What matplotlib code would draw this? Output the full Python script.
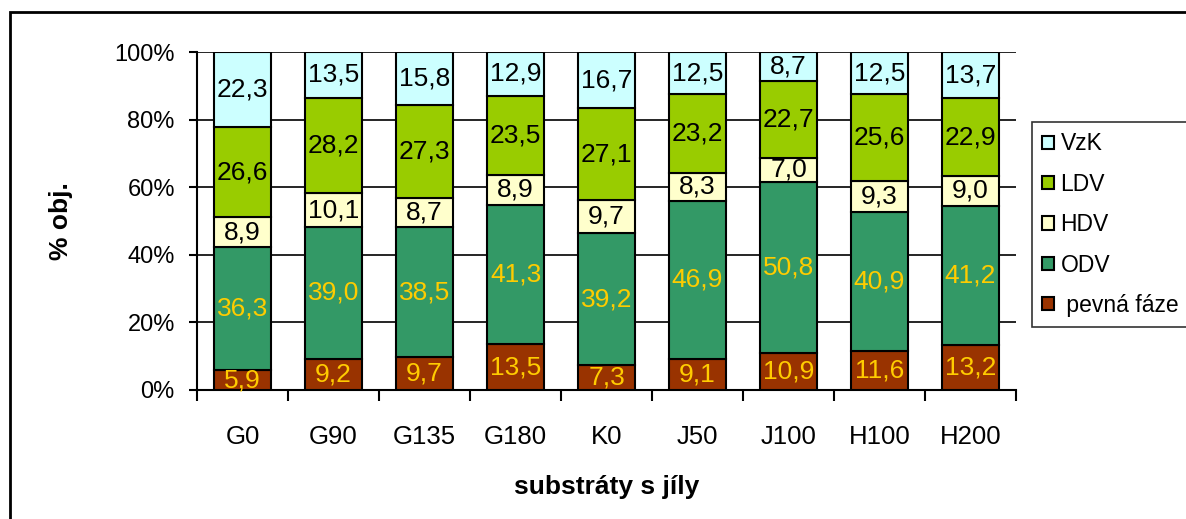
import numpy as np
import matplotlib.pyplot as plt
from matplotlib.patches import Rectangle

plt.rcParams['font.family'] = ['Liberation Sans', 'DejaVu Sans']

kategorie = ['G0', 'G90', 'G135', 'G180', 'K0', 'J50', 'J100', 'H100', 'H200']
pevna_faze = [5.9, 9.2, 9.7, 13.5, 7.3, 9.1, 10.9, 11.6, 13.2]
odv = [36.3, 39.0, 38.5, 41.3, 39.2, 46.9, 50.8, 40.9, 41.2]
hdv = [8.9, 10.1, 8.7, 8.9, 9.7, 8.3, 7.0, 9.3, 9.0]
ldv = [26.6, 28.2, 27.3, 23.5, 27.1, 23.2, 22.7, 25.6, 22.9]
vzk = [22.3, 13.5, 15.8, 12.9, 16.7, 12.5, 8.7, 12.5, 13.7]

serie = [(' pevná fáze', pevna_faze, '#993300', '#FFCC00'),
         ('ODV', odv, '#339966', '#FFCC00'),
         ('HDV', hdv, '#FFFFCC', 'black'),
         ('LDV', ldv, '#99CC00', 'black'),
         ('VzK', vzk, '#CCFFFF', 'black')]

data = np.array([s[1] for s in serie])
podil = data / data.sum(axis=0) * 100  # 100% skladany graf

fig = plt.figure(figsize=(11.86, 5.19), dpi=100)
ax = fig.add_axes([0.1661, 0.2486, 0.6906, 0.6512])

x = np.arange(len(kategorie))
spodek = np.zeros(len(kategorie))
for i, (nazev, hodnoty, barva, barva_txt) in enumerate(serie):
    ax.bar(x, podil[i], 0.63, bottom=spodek, color=barva, edgecolor='black',
           linewidth=1.5, label=nazev, zorder=3)
    for j, v in enumerate(hodnoty):
        ax.text(x[j], spodek[j] + podil[i][j] / 2, ('%.1f' % v).replace('.', ','),
                ha='center', va='center', fontsize=19, color=barva_txt, zorder=4)
    spodek += podil[i]

ax.set_xlim(-0.5, len(kategorie) - 0.5)
ax.set_ylim(0, 100)
ax.set_yticks(np.arange(0, 101, 20))
ax.set_yticklabels(['%d%%' % t for t in range(0, 101, 20)], fontsize=17)
ax.yaxis.grid(True, color='black', linewidth=1.2, zorder=0)
ax.set_axisbelow(True)

ax.set_xticks(x)
ax.set_xticklabels(kategorie, fontsize=18.5)
ax.tick_params(axis='x', length=0, pad=25)
ax.set_xticks(np.arange(-0.5, len(kategorie)), minor=True)
ax.tick_params(axis='x', which='minor', length=8, width=1.5, direction='out')
ax.tick_params(axis='y', length=6, width=1.5, direction='out', pad=10)

for s in ['top', 'right']:
    ax.spines[s].set_visible(False)
for s in ['left', 'bottom']:
    ax.spines[s].set_linewidth(1.5)

ax.set_xlabel('substráty s jíly', fontsize=19, fontweight='bold', labelpad=19)
ax.set_ylabel('% obj.', fontsize=19, fontweight='bold', labelpad=30)

h, l = ax.get_legend_handles_labels()
leg = fig.legend(h[::-1], l[::-1], loc='upper left', bbox_to_anchor=(0.870, 0.765),
                 fontsize=16.5, frameon=True, fancybox=False, handlelength=0.5,
                 handleheight=0.5, handletextpad=0.3, labelspacing=0.76,
                 borderpad=0.45, borderaxespad=0)
leg.get_frame().set_edgecolor('black')
leg.get_frame().set_linewidth(1.2)

# ramecek kolem celeho grafu
fig.patches.append(Rectangle((10 / 1186, -0.1), 1.2, 1 - 12 / 519 + 0.1,
                             transform=fig.transFigure, fill=False,
                             edgecolor='black', linewidth=2))

fig.savefig('out.png', dpi=100)
